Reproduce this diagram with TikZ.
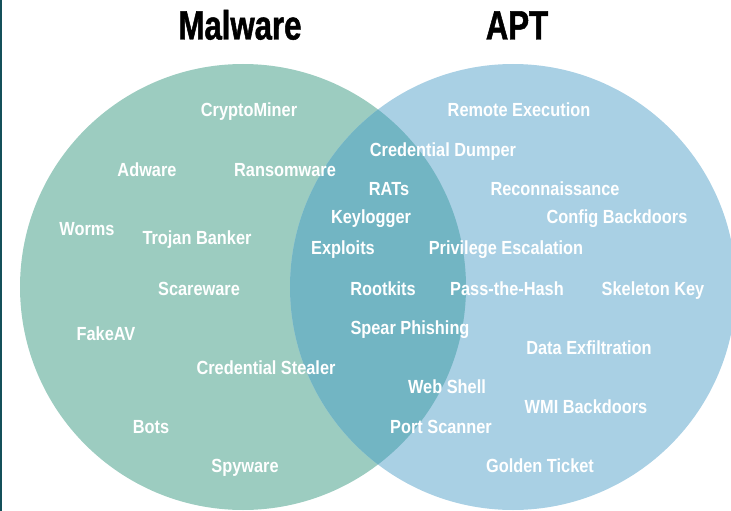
\documentclass[tikz,border=0pt]{standalone}
\usepackage{fontspec}
\setmainfont{Liberation Sans}[FakeStretch=0.86]
\newfontfamily\titlefont{Liberation Sans}[FakeStretch=0.76,FakeBold=1.2]

\definecolor{malgreen}{HTML}{9CCCC0}
\definecolor{aptblue}{HTML}{A9D0E4}
\definecolor{bothteal}{HTML}{72B5C3}
\definecolor{edgeteal}{HTML}{14505A}

\begin{document}
\begin{tikzpicture}[x=1pt,y=-1pt]

      \useasboundingbox (0,0) rectangle (731,511);
      \fill[edgeteal] (0,0) rectangle (2,511);

      % the two sets and their overlap
      \fill[malgreen] (243,287) circle (223pt);
      \fill[aptblue]  (513,287) circle (223pt);
      \begin{scope}
        \clip (243,287) circle (223pt);
        \fill[bothteal] (513,287) circle (223pt);
      \end{scope}

      \begin{scope}[every node/.style={font=\titlefont\bfseries\fontsize{41}{41}\selectfont,inner sep=0pt,text height=29pt,text depth=0pt}]
        \node (malware) at (240,25) {Malware};
        \node (apt)     at (517,25) {APT};
      \end{scope}

      \begin{scope}[every node/.style={text=white,font=\bfseries\fontsize{19}{19}\selectfont,inner sep=0pt,text height=13.5pt,text depth=0pt}]
        % malware only
        \node (cryptominer) at (249,110) {CryptoMiner};
        \node (adware)      at (147,170) {Adware};
        \node (ransomware)  at (285,170) {Ransomware};
        \node (worms)       at (87,229)  {Worms};
        \node (trojan)      at (197,238) {Trojan Banker};
        \node (scareware)   at (199,289) {Scareware};
        \node (fakeav)      at (106,334) {FakeAV};
        \node (stealer)     at (266,368) {Credential Stealer};
        \node (bots)        at (151,427) {Bots};
        \node (spyware)     at (245,466) {Spyware};

        % both
        \node (dumper)      at (443,150) {Credential Dumper};
        \node (rats)        at (389,189) {RATs};
        \node (keylogger)   at (371,217) {Keylogger};
        \node (exploits)    at (343,248) {Exploits};
        \node (rootkits)    at (383,289) {Rootkits};
        \node (phishing)    at (410,328) {Spear Phishing};
        \node (webshell)    at (447,387) {Web Shell};
        \node (portscan)    at (441,427) {Port Scanner};

        % apt only
        \node (remote)      at (519,110) {Remote Execution};
        \node (recon)       at (555,189) {Reconnaissance};
        \node (config)      at (617,217) {Config Backdoors};
        \node (privesc)     at (506,248) {Privilege Escalation};
        \node (passhash)    at (507,289) {Pass-the-Hash};
        \node (skeleton)    at (653,289) {Skeleton Key};
        \node (exfil)       at (589,348) {Data Exfiltration};
        \node (wmi)         at (586,407) {WMI Backdoors};
        \node (golden)      at (540,466) {Golden Ticket};
      \end{scope}

    \end{tikzpicture}
\end{document}
